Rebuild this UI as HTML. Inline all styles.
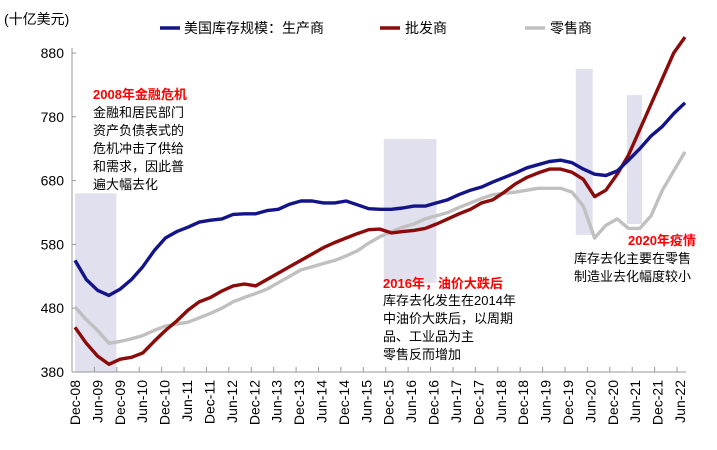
<!DOCTYPE html>
<html><head><meta charset="utf-8"><style>
body{margin:0;background:#fff;}
svg text{font-family:"Liberation Sans","Noto Sans CJK SC",sans-serif;}
</style></head><body>
<svg id="chart" width="717" height="445" viewBox="0 0 717 445" xmlns="http://www.w3.org/2000/svg">
<g id="shades"></g>
<g id="axes"></g>
<g id="lines"></g>
<text x="4" y="24" font-size="14">(十亿美元)</text>
<g>
<line x1="160" y1="28" x2="180" y2="28" stroke="#14148a" stroke-width="3.5"/>
<text x="184" y="33" font-size="14">美国库存规模：生产商</text>
<line x1="380" y1="28" x2="400" y2="28" stroke="#8b0a0a" stroke-width="3.5"/>
<text x="405" y="33" font-size="14">批发商</text>
<line x1="525" y1="28" x2="545" y2="28" stroke="#c0c0c0" stroke-width="3.5"/>
<text x="550" y="33" font-size="14">零售商</text>
</g>
<g font-size="13">
<text x="93" y="99" fill="#ff0000" font-weight="bold">2008年金融危机</text>
<text x="93" y="117">金融和居民部门</text>
<text x="93" y="135">资产负债表式的</text>
<text x="93" y="153">危机冲击了供给</text>
<text x="93" y="171">和需求，因此普</text>
<text x="93" y="189">遍大幅去化</text>
</g>
<g font-size="13">
<text x="383" y="288" fill="#ff0000" font-weight="bold">2016年，油价大跌后</text>
<text x="383" y="305">库存去化发生在2014年</text>
<text x="383" y="323">中油价大跌后，以周期</text>
<text x="383" y="341">品、工业品为主</text>
<text x="383" y="359">零售反而增加</text>
</g>
<g font-size="13">
<text x="628" y="245" fill="#ff0000" font-weight="bold">2020年疫情</text>
<text x="574" y="263">库存去化主要在零售</text>
<text x="574" y="281">制造业去化幅度较小</text>
</g>
</svg>
<script>
const yTicks=[380,480,580,680,780,880];
const xLabels=["Dec-08","Jun-09","Dec-09","Jun-10","Dec-10","Jun-11","Dec-11","Jun-12","Dec-12","Jun-13","Dec-13","Jun-14","Dec-14","Jun-15","Dec-15","Jun-16","Dec-16","Jun-17","Dec-17","Jun-18","Dec-18","Jun-19","Dec-19","Jun-20","Dec-20","Jun-21","Dec-21","Jun-22"];
// quarterly values from Dec-08 to Jun-22
const producer=[555,525,508,500,510,525,545,570,590,600,607,615,618,620,627,628,628,633,635,643,648,648,645,645,648,642,636,635,635,637,640,640,645,650,658,665,670,678,685,692,700,705,710,712,708,698,690,688,695,712,730,750,765,785,802];
const wholesale=[450,425,405,392,400,403,410,428,445,460,477,490,497,507,515,518,515,525,535,545,555,565,575,583,590,597,603,604,598,600,602,605,612,620,628,635,645,650,662,675,685,692,698,698,693,682,655,665,690,720,760,800,840,880,905];
const retail=[482,462,445,425,428,432,437,445,452,455,458,465,472,480,490,497,503,510,520,530,540,545,550,555,562,570,582,592,600,607,612,620,625,630,638,645,652,658,660,662,665,668,668,668,662,640,590,610,620,605,605,625,665,695,725];
// [startMonth, endMonth, topValue, bottomValue]
const shadeRanges=[[0,11,660,380],[82,96,745,520],[133,137.5,855,595],[146.6,150.6,814,612]];
const ns="http://www.w3.org/2000/svg";
const x0=72,x1=686,yBase=372,yTop=53;
function xm(m){return x0+3+m*(x1-x0-4)/162;}
function ys(v){return yBase-(v-380)*(yBase-yTop)/500;}
function el(t,a,p){const e=document.createElementNS(ns,t);for(const k in a)e.setAttribute(k,a[k]);document.getElementById(p).appendChild(e);return e;}
shadeRanges.forEach((r,i)=>{
 const s=el('rect',{x:xm(r[0]),y:ys(r[2]),width:xm(r[1])-xm(r[0]),height:ys(r[3])-ys(r[2]),fill:'#e0e0ee'},'shades');
 
 
});
const ax=el('line',{x1:x0,y1:yBase,x2:x0,y2:yTop-5,stroke:'#999'},'axes');


const bx=el('line',{x1:x0,y1:yBase,x2:x1,y2:yBase,stroke:'#999'},'axes');


yTicks.forEach(v=>{
 el('line',{x1:x0,y1:ys(v),x2:x0+4,y2:ys(v),stroke:'#999'},'axes');
 const t=el('text',{x:x0-8,y:ys(v)+5,'text-anchor':'end','font-size':'14'},'axes');
 t.textContent=v;
 
 
});
xLabels.forEach((l,i)=>{
 const x=x0+i*(x1-x0)/27.4;
 el('line',{x1:x,y1:yBase,x2:x,y2:yBase-5,stroke:'#999'},'axes');
 const t=el('text',{transform:`translate(${x+8},${yBase+8}) rotate(-90)`,'text-anchor':'end','font-size':'14'},'axes');
 t.textContent=l;
 
 
});
function line(arr,color,name){
 const d=arr.map((v,i)=>(i?'L':'M')+xm(i*3).toFixed(1)+','+ys(v).toFixed(1)).join('');
 const p=el('path',{d:d,fill:'none',stroke:color,'stroke-width':3.4,'stroke-linejoin':'round'},'lines');
 
 
}
line(retail,'#c0c0c0','retail-line');
line(wholesale,'#8b0a0a','wholesale-line');
line(producer,'#14148a','producer-line');
</script>
</body></html>
